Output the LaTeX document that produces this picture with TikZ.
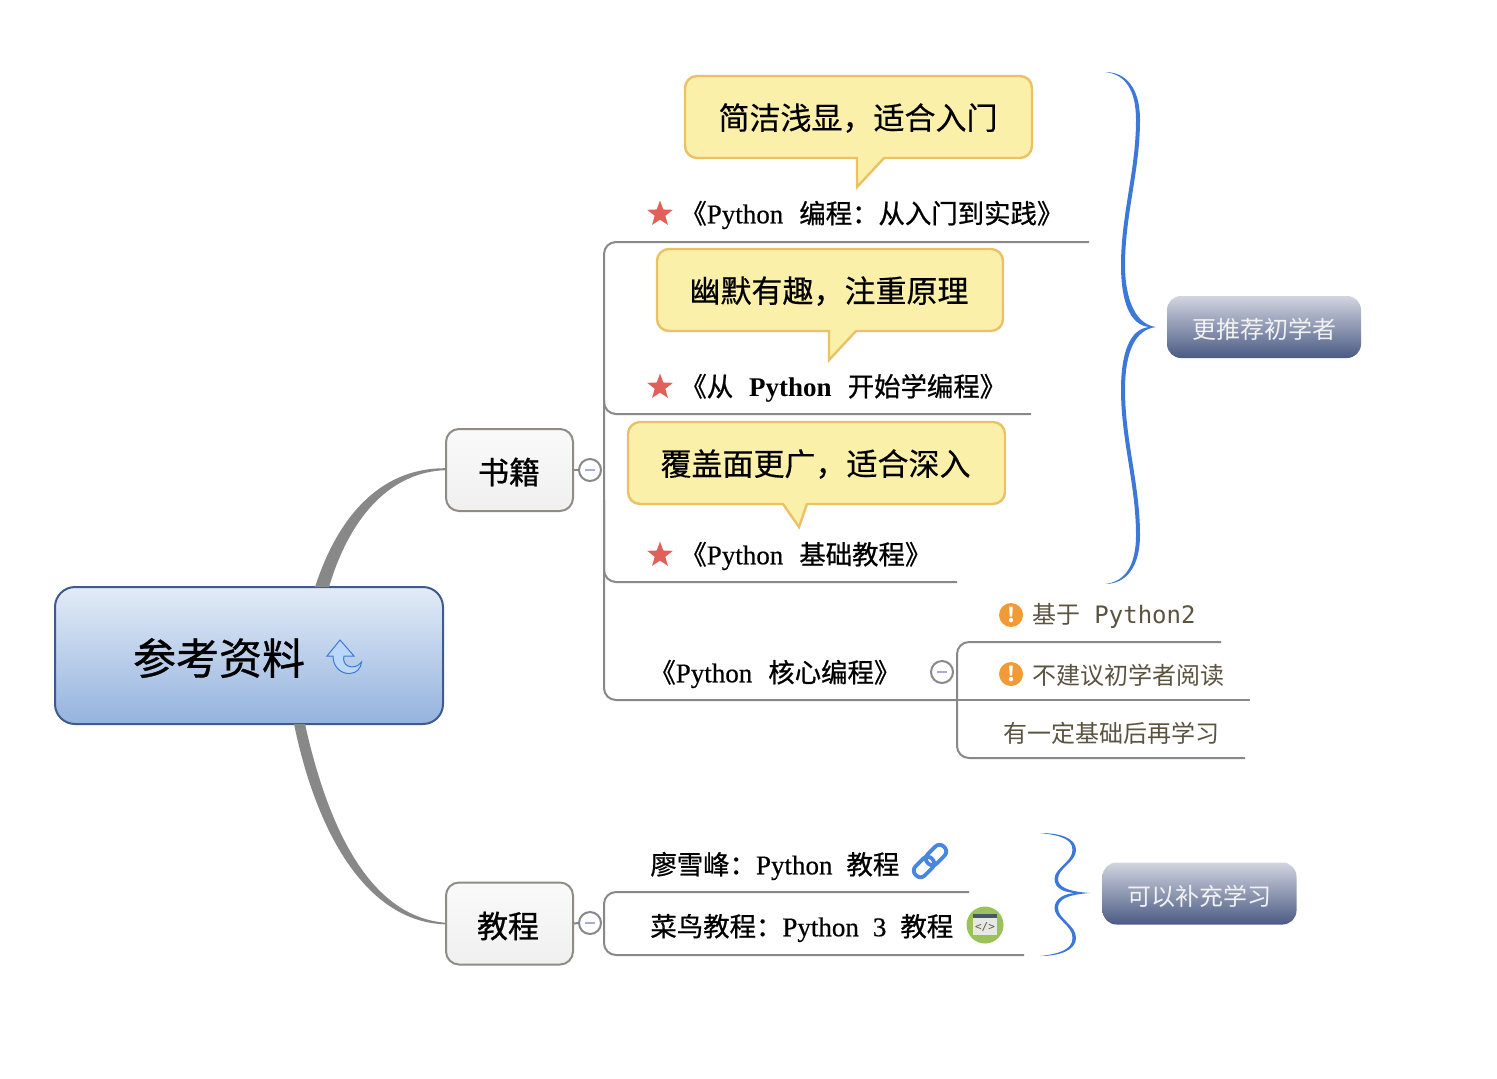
\documentclass[tikz,border=0pt]{standalone}
\usepackage{fontspec}
\usetikzlibrary{shapes.geometric}
\setmainfont{Noto Sans CJK SC}
\newfontfamily\cjb[FakeBold=0.8]{Noto Sans CJK SC}
\newfontfamily\cjm[FakeBold=0.4]{Noto Sans CJK SC}
\newfontfamily\latf[FakeBold=0.5]{Liberation Serif}
\newfontfamily\latb{Liberation Serif Bold}
\newfontfamily\monof{DejaVu Sans Mono}
\newcommand\lat[1]{{\latf\fontsize{13.5}{14}\selectfont #1}}
\definecolor{branchgrey}{HTML}{888888}
\definecolor{notegold}{HTML}{EBC165}
\definecolor{notefill}{HTML}{FAF0A9}
\definecolor{bluebrace}{HTML}{3C78D8}
\definecolor{greytext}{HTML}{5A5340}
\tikzset{
  x=0.5pt,y=-0.5pt,
  rootbox/.style={draw=rootline,rounded corners=10pt,line width=1pt,minimum width=194pt,minimum height=68.5pt,top color=rootA,bottom color=rootB,inner sep=0pt},
  topicbox/.style={draw=topicline,rounded corners=6.5pt,line width=1pt,minimum width=63.5pt,minimum height=41pt,top color=white!98!black,bottom color=white!94!black,inner sep=0pt},
  topictext/.style={inner sep=0pt,font=\fontsize{15.5}{16}\cjb},
  boundbox/.style={rounded corners=7pt,minimum width=97pt,minimum height=31pt,top color=boundA,bottom color=boundB,inner sep=0pt},
  boundtext/.style={inner sep=0pt,text=white!95!black,font=\fontsize{12}{13}\selectfont},
  branch/.style={draw=branchgrey,line width=1pt,rounded corners=6pt},
  note/.style={draw=notegold,fill=notefill,line width=1.2pt,rounded corners=6pt},
  notetext/.style={inner sep=0pt,font=\fontsize{15.5}{16}\cjm},
  book/.style={inner sep=0pt,anchor=west,font=\fontsize{13.2}{14}\cjb},
  sub/.style={inner sep=0pt,anchor=west,text=greytext,font=\fontsize{12}{13}\selectfont},
  collapse/.style={circle,draw=branchgrey,fill=white,line width=1pt,minimum size=11pt,inner sep=0pt},
  minusbar/.style={draw=minusblue,line width=1.1pt},
  starmark/.style={star,star points=5,star point ratio=2.4,fill=starred,minimum size=13.5pt,inner sep=0pt},
  warn/.style={circle,fill=warnorange,minimum size=12pt,inner sep=0pt,text=white,font=\fontsize{10}{10}\bfseries},
  brace/.style={fill=bluebrace,draw=none},
}
\definecolor{rootA}{HTML}{E3EBF7}
\definecolor{rootB}{HTML}{94B3DE}
\definecolor{rootline}{HTML}{3F5A8C}
\definecolor{topicline}{HTML}{908B84}
\definecolor{boundA}{HTML}{D2D5E0}
\definecolor{boundB}{HTML}{4A5A84}
\definecolor{minusblue}{HTML}{A4ACD8}
\definecolor{starred}{HTML}{E2605A}
\definecolor{warnorange}{HTML}{F29A36}
\definecolor{linkblue}{HTML}{4A86E0}
\definecolor{iconfill}{HTML}{BBD8FC}
\definecolor{codegreen}{HTML}{9BC25A}
\definecolor{codehead}{HTML}{4A5568}
\definecolor{codebody}{HTML}{E8E8E2}
\begin{document}
\begin{tikzpicture}
\useasboundingbox (0,0) rectangle (1497,1078);
% main nodes
\node[rootbox] (root) at (249,655.5) {};
\node[inner sep=0pt,font=\fontsize{21.5}{22}\cjb] (roottxt) at (219,658) {参考资料};
\node[topicbox] (books) at (509.5,470) {};
\node[topictext] (bookstxt) at (509,472) {书籍};
\node[topicbox] (tuts) at (509.5,923.5) {};
\node[topictext] (tutstxt) at (508,926) {教程};
% tapered main connectors
\coordinate (rt1) at (315,587);
\coordinate (rt2) at (329,587);
\coordinate (rb1) at (294,724);
\coordinate (rb2) at (305,724);
\coordinate (be) at ([yshift=.5pt]books.west);
\coordinate (te) at (tuts.west);
\fill[branchgrey] (rt1) .. controls (340,510) and (385,468) .. ([yshift=.4pt]be) -- ([yshift=-.6pt]be) .. controls (395,472) and (352,510) .. (rt2) -- cycle;
\fill[branchgrey] (rb1) .. controls (318,840) and (370,922) .. ([yshift=-.4pt]te) -- ([yshift=.4pt]te) .. controls (380,917) and (333,850) .. (rb2) -- cycle;
% return icon
\draw[fill=iconfill,draw=bluebrace,line width=.5pt] (340,640) -- (327,656) -- (333,656) .. controls (333,668) and (342,674) .. (350,673.5) .. controls (357,673) and (361,668) .. (361.5,662) .. controls (358,667) and (352,668) .. (348,666) .. controls (344,664) and (343,660) .. (344,656) -- (354,656) -- cycle;
% callouts
\path[note] (685,76) -- (1032,76) -- (1032,158) -- (1000,158) [sharp corners] -- (884,158) -- (857,187) -- (857,158) -- (720,158) [rounded corners=6pt] -- (685,158) -- cycle;
\node[notetext] (n1) at (858,118) {简洁浅显，适合入门};
\path[note] (657,249) -- (1003,249) -- (1003,331) -- (970,331) [sharp corners] -- (856,331) -- (829,360) -- (829,331) -- (690,331) [rounded corners=6pt] -- (657,331) -- cycle;
\node[notetext] (n2) at (829,291) {幽默有趣，注重原理};
\path[note] (628,422) -- (1005,422) -- (1005,504) -- (970,504) [sharp corners] -- (807,504) -- (799,527) -- (783,504) -- (660,504) [rounded corners=6pt] -- (628,504) -- cycle;
\node[notetext] (n3) at (815.5,464) {覆盖面更广，适合深入};
% book titles
\node[starmark] (s1) at (660,214) {};
\node[book] (b1) at (680,215) {《\lat{Python}\hspace{8pt}编程：从入门到实践》};
\node[starmark] (s2) at (660,387) {};
\node[book] (b2) at (680,388) {《从\hspace{8pt}{\latb\fontsize{13.5}{14}\selectfont Python}\hspace{8pt}开始学编程》};
\node[starmark] (s3) at (660,555) {};
\node[book] (b3) at (680,556) {《\lat{Python}\hspace{8pt}基础教程》};
\node[book] (b4) at (649,674) {《\lat{Python}\hspace{8pt}核心编程》};
% branches of books
\node[collapse] (c1) at (590,470) {};
\draw[minusbar] ([xshift=-2.5pt]c1.center) -- ([xshift=2.5pt]c1.center);
\draw[branch] (books.east) -- (c1.west);
\coordinate (t1) at (1089,242);
\coordinate (t2) at (1031,414);
\coordinate (t3) at (957,582);
\coordinate (t4) at (957,700);
\draw[branch] (t1) -- (604,242) -- (604,700) -- (t4);
\draw[branch] (604,400) |- (t2);
\draw[branch] (604,500) |- (t3);
% python core sub tree
\node[collapse] (c2) at (942,672) {};
\draw[minusbar] ([xshift=-2.5pt]c2.center) -- ([xshift=2.5pt]c2.center);
\coordinate (u1) at (1221,642);
\coordinate (u2) at (1250,700);
\coordinate (u3) at (1245,758);
\draw[branch] (u1) -- (957,642) -- (957,758) -- (u3);
\draw[draw=branchgrey,line width=1pt] (t4) -- (u2);
\node[warn] (w1) at (1011,615) {!};
\node[warn] (w2) at (1011,674) {!};
\node[sub] (sub1) at (1032,616) {基于\hspace{7pt}{\monof Python2}};
\node[sub] (sub2) at (1032,675) {不建议初学者阅读};
\node[sub] (sub3) at (1003,733) {有一定基础后再学习};
% tutorials
\node[collapse] (c3) at (590,923) {};
\draw[minusbar] ([xshift=-2.5pt]c3.center) -- ([xshift=2.5pt]c3.center);
\draw[branch] (tuts.east) -- (c3.west);
\coordinate (v1) at (969,892);
\coordinate (v2) at (1024,955);
\draw[branch] (v1) -- (604,892) -- (604,955) -- (v2);
\node[book] (tt1) at (650,866) {廖雪峰：\lat{Python}\hspace{7pt}教程};
\node[book] (tt2) at (650,928) {菜鸟教程：\lat{Python}\hspace{7pt}\lat{3}\hspace{7pt}教程};
% link icon
\begin{scope}[shift={(930,861)},rotate=45]
\draw[draw=linkblue,line width=1.9pt,rounded corners=3pt] (-3,-6.5) rectangle (20,6.5);
\draw[draw=linkblue,line width=1.9pt,rounded corners=3pt] (-20,-6.5) rectangle (3,6.5);
\end{scope}
% code icon
\node[circle,fill=codegreen,minimum size=18.5pt,inner sep=0pt] (code) at (985,925) {};
\fill[codebody] (973,914) rectangle (997,935);
\fill[codehead] (973,914) rectangle (997,918);
\node[inner sep=0pt,text=black!65,font=\fontsize{5.5}{5.5}\monof] (codetxt) at (985,927) {</>};
% boundaries
\node[boundbox] (bd1) at (1264,327) {};
\node[boundtext] (bd1txt) at (1264,329.5) {更推荐初学者};
\node[boundbox] (bd2) at (1199.5,893.5) {};
\node[boundtext] (bd2txt) at (1199.5,896) {可以补充学习};
\fill[brace] (1105,72) .. controls (1126,72) and (1140,88) .. (1140,120) .. controls (1140,170) and (1125,215) .. (1125,265) .. controls (1125,300) and (1136,324.5) .. (1156,327) .. controls (1136,329.5) and (1125,350) .. (1125,390) .. controls (1125,440) and (1140,485) .. (1140,535) .. controls (1140,567) and (1126,584) .. (1105,584) .. controls (1124,582) and (1136,567) .. (1136,535) .. controls (1136,485) and (1121,440) .. (1121,390) .. controls (1121,352) and (1130,329) .. (1149,327) .. controls (1130,325) and (1121,302) .. (1121,265) .. controls (1121,215) and (1136,170) .. (1136,120) .. controls (1136,88) and (1124,74) .. (1105,72) -- cycle;
\fill[brace] (1040,833) .. controls (1060,833) and (1076,838) .. (1076,850) .. controls (1076,862) and (1058,868) .. (1058,879) .. controls (1058,887) and (1068,891.5) .. (1090,893) .. controls (1068,894.5) and (1058,899) .. (1058,908) .. controls (1058,919) and (1076,925) .. (1076,938) .. controls (1076,950) and (1060,956) .. (1040,956) .. controls (1058,954) and (1072.5,950) .. (1072.5,938) .. controls (1072.5,925) and (1054.5,919) .. (1054.5,908) .. controls (1054.5,899) and (1064,893) .. (1077,893) .. controls (1064,893) and (1054.5,888) .. (1054.5,879) .. controls (1054.5,868) and (1072.5,862) .. (1072.5,850) .. controls (1072.5,838) and (1058,835) .. (1040,833) -- cycle;
\end{tikzpicture}
\end{document}
